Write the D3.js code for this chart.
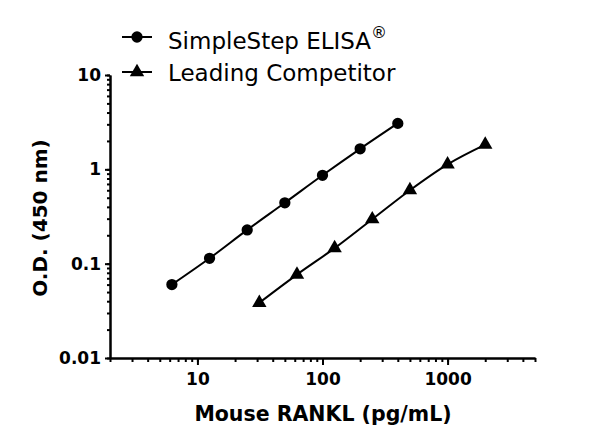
<!DOCTYPE html>
<meta charset="utf-8">
<style>
  body { margin: 0; background: #fff; }
  .axis path, .axis line { stroke: #000; stroke-width: 2px; }
  .axis text { font-family: "DejaVu Sans", sans-serif; font-weight: bold; font-size: 17px; fill: #000; }
  .label { font-family: "DejaVu Sans", sans-serif; font-weight: bold; fill: #000; }
  .legend text { font-family: "DejaVu Sans", sans-serif; font-size: 23px; fill: #000; }
</style>
<body>
  <script src="https://d3js.org/d3.v7.min.js"></script>
  <script>
    // concentrations (pg/mL)
    var simpleConc = [6.25, 12.5, 25, 50, 100, 200, 400];
    var simpleOD = [0.060, 0.114, 0.228, 0.442, 0.865, 1.65, 3.07];
    var compConc = [31.25, 62.5, 125, 250, 500, 1000, 2000];
    var compOD = [0.0385, 0.0766, 0.146, 0.296, 0.601, 1.13, 1.83];

    var seriesNames = ["SimpleStep ELISA", "Leading Competitor"];
    var xTickValues = [10, 100, 1000];
    var yTickValues = [0.01, 0.1, 1, 10];

    var width = 600, height = 445;
    var margin = { top: 75, right: 65, bottom: 87, left: 110 };

    var x = d3.scaleLog()
      .domain([2, 5000])
      .range([margin.left, width - margin.right]);

    var y = d3.scaleLog()
      .domain([0.01, 10])
      .range([height - margin.bottom, margin.top]);

    var svg = d3.select("body").append("svg")
      .attr("width", width)
      .attr("height", height);

    // minor ticks first
    svg.append("g")
      .attr("class", "axis")
      .attr("transform", "translate(0," + y.range()[0] + ")")
      .call(d3.axisBottom(x).tickValues(x.ticks()).tickSize(4).tickSizeOuter(0).tickFormat(""));

    svg.append("g")
      .attr("class", "axis")
      .attr("transform", "translate(" + x.range()[0] + ",0)")
      .call(d3.axisLeft(y).tickValues(y.ticks()).tickSize(3).tickSizeOuter(0).tickFormat(""));

    // major ticks with labels
    svg.append("g")
      .attr("class", "axis")
      .attr("transform", "translate(0," + y.range()[0] + ")")
      .call(d3.axisBottom(x).tickValues(xTickValues).tickSize(7).tickPadding(8).tickSizeOuter(0).tickFormat(d3.format("d")));

    svg.append("g")
      .attr("class", "axis")
      .attr("transform", "translate(" + x.range()[0] + ",0)")
      .call(d3.axisLeft(y).tickValues(yTickValues).tickSize(5).tickPadding(4).tickSizeOuter(0).tickFormat(d3.format("~g")));

    svg.append("text")
      .attr("class", "label")
      .attr("x", 323)
      .attr("y", 421)
      .attr("text-anchor", "middle")
      .style("font-size", "20.5px")
      .text("Mouse RANKL (pg/mL)");

    svg.append("text")
      .attr("class", "label")
      .attr("transform", "translate(47,218) rotate(-90)")
      .attr("text-anchor", "middle")
      .style("font-size", "20px")
      .text("O.D. (450 nm)");

    var line = d3.line()
      .x(function (d) { return x(d[0]); })
      .y(function (d) { return y(d[1]); })
      .curve(d3.curveMonotoneX);

    var simple = d3.zip(simpleConc, simpleOD);
    var comp = d3.zip(compConc, compOD);

    svg.append("path")
      .datum(simple)
      .attr("fill", "none")
      .attr("stroke", "#000")
      .attr("stroke-width", 2)
      .attr("d", line);

    svg.append("path")
      .datum(comp)
      .attr("fill", "none")
      .attr("stroke", "#000")
      .attr("stroke-width", 2)
      .attr("d", line);

    var circleSym = d3.symbol().type(d3.symbolCircle).size(100);
    var triSym = d3.symbol().type(d3.symbolTriangle).size(90);

    svg.selectAll(".pt-simple")
      .data(simple)
      .enter()
      .append("path")
      .attr("class", "pt-simple")
      .attr("d", circleSym)
      .attr("transform", function (d) { return "translate(" + x(d[0]) + "," + y(d[1]) + ")"; });

    svg.selectAll(".pt-comp")
      .data(comp)
      .enter()
      .append("path")
      .attr("class", "pt-comp")
      .attr("d", triSym)
      .attr("transform", function (d) { return "translate(" + x(d[0]) + "," + y(d[1]) + ")"; });

    // legend
    var legend = svg.append("g").attr("class", "legend");
    var rows = legend.selectAll("g")
      .data(seriesNames)
      .enter()
      .append("g")
      .attr("transform", function (d, i) { return "translate(122," + (37 + i * 35) + ")"; });

    rows.append("line")
      .attr("x1", 0).attr("x2", 30)
      .attr("stroke", "#000").attr("stroke-width", 2);

    rows.append("path")
      .attr("transform", "translate(15,0)")
      .attr("d", function (d, i) { return i === 0 ? circleSym() : triSym(); });

    var labels = rows.append("text")
      .attr("x", 46)
      .attr("y", function (d, i) { return 12 - i * 3; })
      .text(function (d) { return d; });

    labels.filter(function (d, i) { return i === 0; })
      .append("tspan")
      .attr("dy", -11)
      .style("font-size", "16px")
      .text("®");
  </script>
</body>
